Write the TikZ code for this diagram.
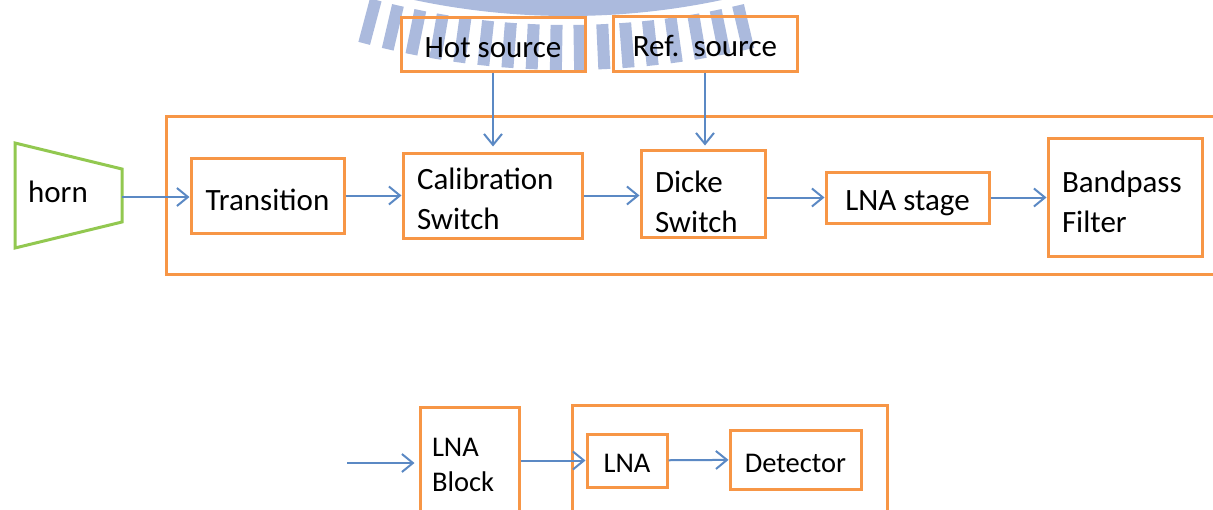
\documentclass[tikz,border=0pt]{standalone}
\usepackage{fontspec}
\setmainfont{Carlito}
\usepackage{tikz}
\usetikzlibrary{arrows.meta}
\definecolor{boxorange}{RGB}{247,150,70}
\definecolor{horngreen}{RGB}{146,200,80}
\definecolor{flowblue}{RGB}{91,137,196}
\definecolor{wmblue}{RGB}{171,186,221}
\newcommand{\lift}[1]{\rule{0pt}{#1}}

\begin{document}
\begin{tikzpicture}[x=1pt, y=-1pt,
  every node/.style={font=\fontsize{31}{40}\selectfont, inner sep=0pt},
  small/.style={font=\fontsize{28.5}{35}\selectfont},
  blk/.style={draw=boxorange, line width=3pt},
  oneline/.style={text height=26pt, text depth=0pt},
  flow/.style={draw=flowblue, line width=2pt, -{Straight Barb[length=11pt,width=18pt]}}]
\useasboundingbox (0,0) rectangle (1213,509);
% watermark behind the diagram
\begin{scope}
\clip (0,0) rectangle (1213,509);
\begin{scope}[shift={(568,-724)}]
\fill[wmblue, even odd rule] (0,0) circle[radius=740] (0,0) circle[radius=700];
\foreach \a in {-14.875,-13.125,...,14}
  \fill[wmblue, rotate=\a] (-6,749) rectangle (6,794);
\end{scope}
\end{scope}
% front end
\draw[draw=horngreen, line width=3pt] (15,143) -- (122,169) -- (122,222) -- (15,248) -- cycle;
\node (horn) at (58,192) {horn};
\coordinate (hornout) at (122,197);
\node[blk, minimum width=1059pt, minimum height=158pt] (rfblock) at (695.5,195) {};
\node[blk, oneline, minimum width=184pt, minimum height=54pt] (hot) at (493,44) {Hot source};
\node[blk, oneline, minimum width=184pt, minimum height=55pt] (ref) at (705,43.5) {Ref.\ \ source};
\node[blk, oneline, text height=29pt, minimum width=153pt, minimum height=75pt] (trans) at (267.5,195.5) {Transition};
\node[blk, align=left, text width=151pt, inner xsep=14pt, minimum height=85pt] (cal) at (492.5,195.5) {\lift{29pt}Calibration\\Switch};
\node[blk, align=left, text width=96pt, inner xsep=14pt, minimum height=87pt] (dicke) at (703,193.5) {\lift{39pt}Dicke\\Switch};
\node[blk, oneline, text height=25pt, minimum width=163pt, minimum height=51pt] (lnas) at (907.5,197.5) {LNA stage};
\node[blk, align=left, text width=126pt, inner xsep=14pt, minimum height=118pt] (bpf) at (1125,197) {\lift{32pt}Bandpass\\Filter};
\draw[flow] (hornout) -- (hornout -| trans.west);
\draw[flow] (trans) -- (cal);
\draw[flow] (cal) -- (cal -| dicke.west);
\draw[flow] (dicke.east |- lnas) -- (lnas);
\draw[flow] (lnas) -- (lnas -| bpf.west);
\draw[flow, shorten >=5pt] (hot) -- (hot |- cal.north);
\draw[flow, shorten >=3pt] (ref) -- (ref |- dicke.north);
% back end
\node[blk, small, anchor=north, align=left, text width=75pt, inner xsep=12pt, inner ysep=30.6pt] (lnab) at (469.5,406) {LNA\\Block};
\node[blk, minimum width=315pt, minimum height=135pt] (detblock) at (729.5,472.5) {};
\node[blk, small, oneline, text height=23pt, minimum width=80pt, minimum height=53pt] (lna) at (627,460.5) {LNA};
\node[blk, small, oneline, text height=25pt, minimum width=131pt, minimum height=59pt] (det) at (795.5,459.5) {Detector};
\coordinate (lnain) at (347,463);
\draw[flow, shorten >=4pt] (lnain) -- (lnain -| lnab.west);
\draw[flow] (lnab.east |- lna) -- (lna);
\draw[flow] (lna) -- (det);
\end{tikzpicture}
\end{document}
